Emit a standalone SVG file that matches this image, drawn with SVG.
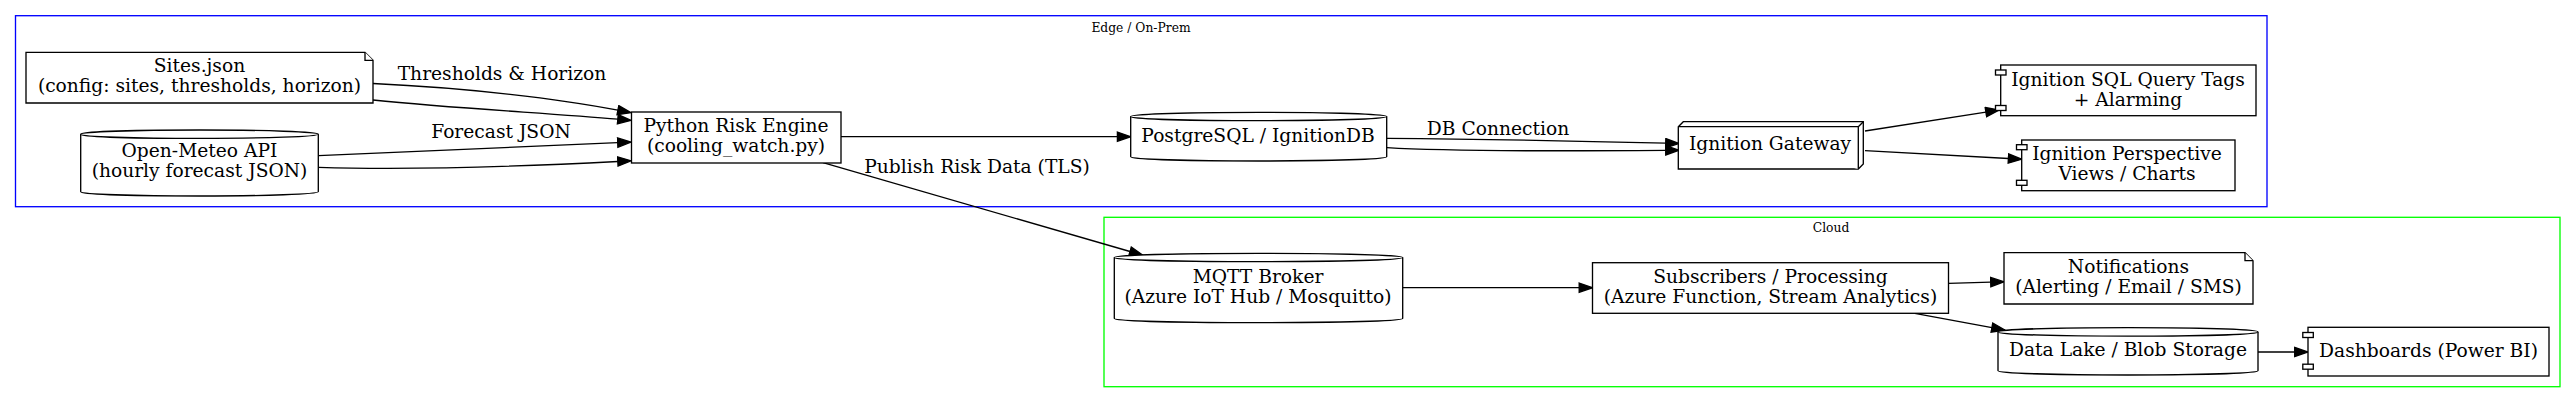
<svg xmlns="http://www.w3.org/2000/svg" width="2576" height="403" viewBox="0 0 2576 403">
<style>
.n{fill:#fff;stroke:#000;stroke-width:1.33}
.t{font-family:"DejaVu Serif",serif;font-size:18.67px;text-anchor:middle;fill:#000}
.cl{font-family:"DejaVu Serif",serif;font-size:12.3px;text-anchor:middle;fill:#000}
.e{fill:none;stroke:#000;stroke-width:1.33;marker-end:url(#ah)}
</style>
<defs>
<marker id="ah" markerUnits="userSpaceOnUse" markerWidth="16" markerHeight="12" viewBox="-1 -1 16 12" refX="0" refY="4.67" orient="auto">
<path d="M0,0 L13.3,4.67 L0,9.33 Z" fill="#000" stroke="#000" stroke-width="1.33"/>
</marker>
</defs>
<rect width="2576" height="403" fill="#fff"/>
<g id="cluster_edge">
<rect x="15.5" y="15.7" width="2251.5" height="191" fill="none" stroke="#0000ff" stroke-width="1.33"/>
<text class="cl" x="1141" y="32">Edge / On-Prem</text>
</g>
<g id="cluster_cloud">
<rect x="1104" y="217.3" width="1456" height="169.4" fill="none" stroke="#00ff00" stroke-width="1.33"/>
<text class="cl" x="1831" y="231.7">Cloud</text>
</g>
<g id="connectors">
<path class="e" d="M373,83.5 C470,88 560,99 617.9,110.2"/>
<text class="t" x="502" y="80">Thresholds &amp; Horizon</text>
<path class="e" d="M373,100 C460,109 550,113 617.8,119.2"/>
<path class="e" d="M318.5,155.7 C420,151 520,146.7 617.7,142.6"/>
<text class="t" x="501" y="138">Forecast JSON</text>
<path class="e" d="M318.5,167.3 C420,170.5 530,166 617.8,161.5"/>
<path class="e" d="M841,136.7 L1117.4,136.7"/>
<path class="e" d="M1387,138.3 C1480,139 1580,141 1665.7,143.2"/>
<text class="t" x="1498" y="135">DB Connection</text>
<path class="e" d="M1387,147.7 C1440,151 1580,151 1665.7,150.3"/>
<path class="e" d="M823,162.7 L1130,251.5"/>
<text class="t" x="977" y="173.3">Publish Risk Data (TLS)</text>
<path class="e" d="M1865,131 L1985.9,112.1"/>
<path class="e" d="M1865,150.7 L2008.4,158.5"/>
<path class="e" d="M1402.7,287.7 L1579.2,287.7"/>
<path class="e" d="M1948.6,283.3 L1990.7,282.1"/>
<path class="e" d="M1914.8,313.3 L1991.9,327.6"/>
<path class="e" d="M2258,352 L2294.7,352"/>
</g>
<g id="sites">
<path class="n" d="M26,52.3 L365,52.3 L373,60.3 L373,103 L26,103 Z"/>
<path class="n" d="M365,52.3 L365,60.3 L373,60.3" fill="none"/>
<text class="t" x="199.5" y="72.4">Sites.json</text>
<text class="t" x="199.5" y="92.4">(config: sites, thresholds, horizon)</text>
</g>
<g id="openmeteo">
<path class="n" d="M80.7,134.2 A118.8,4.2 0 0 1 318.3,134.2 L318.3,191.8 A118.8,4.2 0 0 1 80.7,191.8 Z"/>
<path class="n" d="M80.7,134.2 A118.8,4.2 0 0 0 318.3,134.2" fill="none"/>
<text class="t" x="199.5" y="157.2">Open-Meteo API</text>
<text class="t" x="199.5" y="177.2">(hourly forecast JSON)</text>
</g>
<g id="python">
<rect class="n" x="631.5" y="112" width="209.5" height="51"/>
<text class="t" x="736" y="132.2">Python Risk Engine</text>
<text class="t" x="736" y="152.2">(cooling_watch.py)</text>
</g>
<g id="postgres">
<path class="n" d="M1130.7,116.5 A128,4.2 0 0 1 1386.7,116.5 L1386.7,156.8 A128,4.2 0 0 1 1130.7,156.8 Z"/>
<path class="n" d="M1130.7,116.5 A128,4.2 0 0 0 1386.7,116.5" fill="none"/>
<text class="t" x="1258" y="141.6">PostgreSQL / IgnitionDB</text>
</g>
<g id="gateway">
<path class="n" d="M1678.3,126.7 L1683.3,121.7 L1863.3,121.7 L1863.3,164 L1858.3,169 L1678.3,169 Z"/>
<path class="n" d="M1678.3,126.7 L1858.3,126.7 L1858.3,169 M1858.3,126.7 L1863.3,121.7" fill="none"/>
<text class="t" x="1770" y="150.4">Ignition Gateway</text>
</g>
<g id="sqltags">
<rect class="n" x="2000.7" y="65" width="255.3" height="50.7"/>
<rect class="n" x="1995.5" y="70" width="10.5" height="5"/>
<rect class="n" x="1995.5" y="105.5" width="10.5" height="5"/>
<text class="t" x="2128" y="85.6">Ignition SQL Query Tags</text>
<text class="t" x="2128" y="105.6">+ Alarming</text>
</g>
<g id="perspective">
<rect class="n" x="2021.7" y="140" width="213.3" height="50.7"/>
<rect class="n" x="2016.5" y="144.7" width="10.5" height="5"/>
<rect class="n" x="2016.5" y="180.3" width="10.5" height="5"/>
<text class="t" x="2127" y="160.3">Ignition Perspective</text>
<text class="t" x="2127" y="180.3">Views / Charts</text>
</g>
<g id="mqtt">
<path class="n" d="M1114.3,257.5 A144.2,4.2 0 0 1 1402.7,257.5 L1402.7,318.5 A144.2,4.2 0 0 1 1114.3,318.5 Z"/>
<path class="n" d="M1114.3,257.5 A144.2,4.2 0 0 0 1402.7,257.5" fill="none"/>
<text class="t" x="1258" y="282.8">MQTT Broker</text>
<text class="t" x="1258" y="302.8">(Azure IoT Hub / Mosquitto)</text>
</g>
<g id="subscribers">
<rect class="n" x="1592.5" y="262.7" width="356" height="50.6"/>
<text class="t" x="1770.5" y="283">Subscribers / Processing</text>
<text class="t" x="1770.5" y="303">(Azure Function, Stream Analytics)</text>
</g>
<g id="notifications">
<path class="n" d="M2004,252.7 L2245,252.7 L2253,260.7 L2253,304 L2004,304 Z"/>
<path class="n" d="M2245,252.7 L2245,260.7 L2253,260.7" fill="none"/>
<text class="t" x="2128.5" y="273.3">Notifications</text>
<text class="t" x="2128.5" y="293.3">(Alerting / Email / SMS)</text>
</g>
<g id="datalake">
<path class="n" d="M1998,331.9 A130,4.2 0 0 1 2258,331.9 L2258,370.8 A130,4.2 0 0 1 1998,370.8 Z"/>
<path class="n" d="M1998,331.9 A130,4.2 0 0 0 2258,331.9" fill="none"/>
<text class="t" x="2128" y="356.4">Data Lake / Blob Storage</text>
</g>
<g id="dashboards">
<rect class="n" x="2308" y="327.3" width="241" height="48.7"/>
<rect class="n" x="2302.8" y="332.5" width="10.5" height="5"/>
<rect class="n" x="2302.8" y="364.2" width="10.5" height="5"/>
<text class="t" x="2428.5" y="356.7">Dashboards (Power BI)</text>
</g>
</svg>
